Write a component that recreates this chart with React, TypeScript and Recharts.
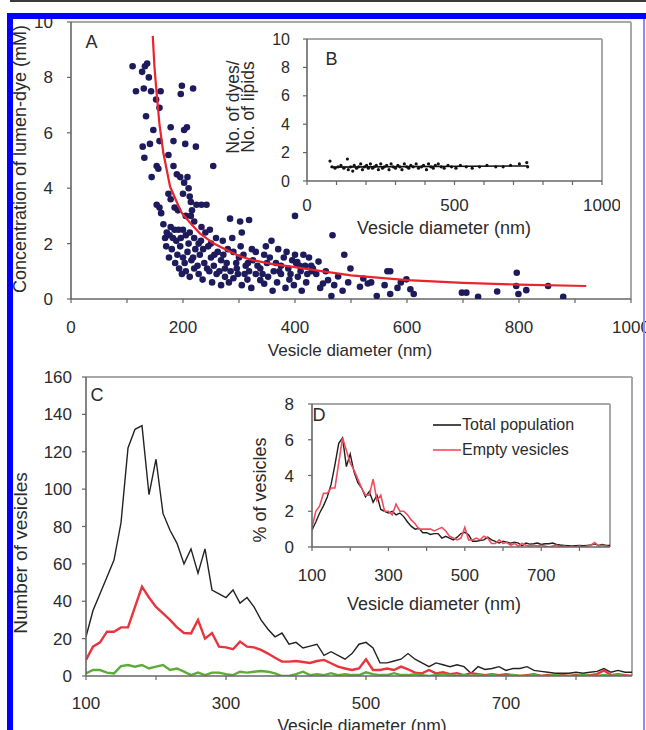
import {
  ScatterChart,
  Scatter,
  LineChart,
  Line,
  XAxis,
  YAxis,
  Label,
  ReferenceLine,
  Legend,
} from 'recharts'

const FONT = '"Liberation Sans", Arial, Helvetica, sans-serif'
const INK = '#2b2b2b'
const AXIS = '#666666'
const FRAME = '#a8a8a8'
const NAVY = '#1d1b5c'
const RED = '#e8252c'

// panel A: each vesicle as [diameter nm, lumen dye mM]
const lumenDye: [number, number][] = [
  [110, 8.4], [116, 7.5], [127, 8.2], [130, 7.6], [132, 8.4], [136, 8.5], [139, 8.0], [143, 7.5],
  [152, 7.2], [160, 7.5], [158, 6.9], [134, 6.6], [147, 6.1], [128, 5.5], [141, 5.6], [158, 5.7],
  [131, 5.1], [144, 4.4], [153, 4.8], [156, 4.7], [174, 5.2], [183, 5.7], [178, 6.2], [198, 7.7],
  [196, 7.4], [218, 7.6], [202, 6.1], [207, 6.2], [204, 5.6], [223, 5.5], [254, 4.8],
  [183, 4.8], [189, 4.5], [195, 4.4], [208, 4.4], [202, 4.2], [210, 4.0], [212, 3.7], [214, 3.5],
  [174, 3.8], [178, 3.6], [153, 3.4], [158, 3.3], [161, 3.1], [185, 3.3], [191, 3.2], [224, 3.4],
  [233, 3.4], [242, 3.4], [216, 3.2], [214, 3.0], [220, 2.8], [200, 3.8], [205, 3.0],
  [171, 2.4], [178, 2.6], [185, 2.5], [192, 2.5], [200, 2.5], [212, 2.4], [176, 2.3], [182, 2.2],
  [188, 2.1], [196, 2.2], [205, 2.3], [220, 2.2], [233, 2.6], [259, 2.2], [271, 2.1], [284, 2.9],
  [302, 2.8], [305, 2.4], [165, 2.7], [168, 2.2], [228, 2.0], [240, 2.4], [248, 2.5], [318, 2.85],
  [400, 3.0], [358, 2.1],
  [180, 1.8], [190, 1.6], [195, 1.9], [200, 1.5], [208, 1.7], [215, 1.4], [222, 1.8], [230, 1.6],
  [238, 1.3], [245, 1.9], [250, 1.5], [255, 1.2], [262, 1.7], [268, 1.4], [275, 1.1], [280, 1.8],
  [290, 1.7], [295, 1.3], [300, 1.5], [308, 1.6], [312, 1.2], [318, 1.0], [325, 1.4], [330, 1.7],
  [338, 1.1], [345, 1.6], [350, 1.3], [362, 1.0], [370, 1.8], [375, 1.2], [380, 1.5], [388, 1.1],
  [395, 1.4], [402, 1.3], [410, 1.0], [418, 1.2], [425, 1.5], [429, 1.2], [438, 0.9], [442, 1.35],
  [170, 1.9], [175, 1.5], [186, 1.3], [193, 1.1], [198, 0.9], [203, 1.3], [210, 2.0], [218, 1.5],
  [226, 1.2], [232, 2.1], [236, 1.8], [243, 1.1], [250, 2.0], [256, 1.6], [265, 1.0], [272, 1.6],
  [278, 1.3], [285, 1.0], [288, 2.2], [296, 1.1], [303, 1.9], [310, 0.9], [316, 1.3], [323, 1.8],
  [333, 1.2], [342, 0.9], [348, 1.9], [355, 1.5], [366, 1.3], [372, 1.0], [385, 1.7], [392, 0.9],
  [400, 1.6], [408, 1.2], [415, 1.6], [422, 0.9], [432, 1.1], [404, 1.33],
  [205, 1.0], [212, 0.8], [220, 1.1], [228, 0.9], [235, 0.7], [247, 1.0], [252, 0.6], [260, 0.9],
  [268, 0.5], [275, 0.8], [282, 0.6], [290, 0.75], [298, 0.9], [305, 0.5], [315, 0.7], [322, 0.4],
  [330, 0.9], [338, 0.68], [345, 0.55], [352, 0.8], [360, 0.3], [368, 0.6], [375, 0.9], [383, 0.4],
  [390, 0.7], [398, 0.5], [405, 0.8], [412, 0.3], [420, 0.6], [450, 0.56], [459, 0.68], [465, 0.11],
  [477, 0.81], [430, 1.0], [445, 0.4], [455, 1.0], [470, 0.5], [485, 0.3], [495, 0.6],
  [467, 2.3], [488, 1.6], [499, 1.1],
  [522, 0.74], [516, 0.44], [530, 0.56], [536, 0.6], [546, 0.11], [565, 1.0], [570, 1.0], [560, 0.5],
  [570, 0.18], [583, 0.4], [589, 0.6], [599, 0.71], [606, 0.35], [612, 0.18], [698, 0.23], [706, 0.23],
  [727, 0.08], [761, 0.27], [796, 0.95], [795, 0.47], [799, 0.18], [813, 0.32], [852, 0.47], [879, 0.08],
]

// panel A: fitted curve
const fitDiameter = [146, 149, 152, 158, 165, 177, 190, 198, 215, 230, 255, 278, 300, 325, 360, 397, 450, 500, 600, 700, 800, 920]
const fitConc = [9.5, 8.4, 7.65, 6.3, 5.26, 4.05, 3.45, 3.1, 2.7, 2.37, 2.0, 1.77, 1.55, 1.4, 1.26, 1.16, 1.0, 0.85, 0.68, 0.58, 0.52, 0.47]

// panel B: dyes per lipid, [diameter nm, ratio]
const dyeRatio: [number, number][] = [
  [78, 1.4], [85, 1.0], [95, 0.9], [105, 1.0], [115, 1.1], [125, 0.9], [137, 1.55], [140, 0.8],
  [148, 1.0], [155, 0.7], [160, 1.1], [168, 0.9], [175, 1.0], [182, 1.2], [188, 0.8], [195, 1.0],
  [202, 1.1], [208, 0.9], [215, 1.2], [222, 0.9], [228, 1.0], [235, 1.1], [242, 0.8], [250, 1.2],
  [256, 0.9], [262, 1.0], [270, 1.1], [278, 0.8], [285, 1.2], [292, 1.0], [300, 0.9], [308, 1.1],
  [315, 1.0], [322, 0.8], [330, 1.2], [338, 1.0], [345, 0.9], [352, 1.1], [360, 1.0], [370, 1.2],
  [378, 0.9], [388, 1.0], [395, 1.1], [405, 0.8], [412, 1.2], [420, 1.0], [428, 0.9], [435, 1.1],
  [445, 1.2], [455, 1.0], [465, 0.9], [478, 1.1], [490, 1.0], [505, 0.9], [520, 1.1], [540, 1.0],
  [560, 0.9], [585, 1.0], [610, 1.1], [640, 1.0], [665, 1.0], [690, 1.1], [720, 1.2], [745, 1.3],
  [748, 1.0],
]
const ratioFitDiameter = [80, 750]
const ratioFitValue = [0.98, 1.06]

// panels C and D: 10 nm bins
const binNm = [
  100, 110, 120, 130, 140, 150, 160, 170, 180, 190,
  200, 210, 220, 230, 240, 250, 260, 270, 280, 290,
  300, 310, 320, 330, 340, 350, 360, 370, 380, 390,
  400, 410, 420, 430, 440, 450, 460, 470, 480, 490,
  500, 510, 520, 530, 540, 550, 560, 570, 580, 590,
  600, 610, 620, 630, 640, 650, 660, 670, 680, 690,
  700, 710, 720, 730, 740, 750, 760, 770, 780, 790,
  800, 810, 820, 830, 840, 850, 860, 870, 880,
]
const totalCount = [
  21, 35, 44, 53, 62, 82, 122, 132, 134, 97,
  116, 87, 78, 71, 60, 68, 55, 68, 46, 44,
  42, 46, 39, 42, 37, 30, 25, 21, 23, 17,
  18, 15, 16, 17, 11, 13, 11, 9, 12, 17,
  18, 15, 7, 7, 8, 9, 12, 9, 7, 5,
  7, 6, 5, 6, 5, 1.5, 5, 3.5, 4, 5,
  3, 4, 4, 5, 3, 2.5, 2, 1.5, 1.5, 1.5,
  2, 1.5, 2, 2.5, 4, 2, 3, 2, 2,
]
const emptyCount = [
  8.6, 15.7, 18, 23.7, 23.7, 26, 26, 37, 47.8, 42,
  37, 33.5, 30, 26, 23, 22.8, 30, 20, 23, 15.7,
  15.3, 14.3, 18.4, 15.7, 15.3, 14, 12, 9.8, 7.7, 7.7,
  8, 7.5, 7, 8, 8.6, 6.8, 5, 4, 3.2, 4,
  8.9, 3.2, 3.2, 4, 3.2, 5, 3.6, 1.8, 1.4, 3.2,
  1.4, 2, 1, 1.5, 0.5, 1.5, 1, 0.5, 1, 0.5,
  1, 0.5, 0, 0.5, 1, 0, 0.5, 0, 0.5, 0,
  0.5, 0, 0.5, 1, 3, 0.5, 1, 0.5, 0,
]
const loadedCount = [
  1.4, 3.2, 3.2, 1.8, 1.4, 5.3, 5.9, 5, 5.9, 4,
  5, 5.9, 3.2, 4, 2.3, 0.5, 1.8, 0.5, 1.8, 1.8,
  1, 0.5, 2.3, 1.8, 2.3, 2.7, 2.3, 1.4, 0, 0,
  1, 2.3, 0.5, 1, 0.5, 1.5, 0.5, 1, 0.5, 0.5,
  2, 1, 0.5, 0.5, 1.5, 0.5, 0.5, 1, 0.5, 0,
  0.5, 1, 0.5, 0, 0.5, 0, 0.5, 0, 0.5, 0,
  0, 0.5, 0, 0, 0.5, 0, 0, 0.5, 0, 0,
  0, 0.5, 0, 0, 0.5, 0, 0.5, 0, 0,
]
const totalPct = [
  0.95, 1.4, 1.9, 2.3, 2.8, 3.5, 4.6, 5.8, 6.1, 4.5,
  5.2, 4.2, 3.6, 3.3, 2.8, 3.1, 2.5, 2.9, 2.1, 2.0,
  1.9, 2.0, 1.8, 1.9, 1.7, 1.4, 1.15, 1.0, 1.05, 0.8,
  0.8, 0.7, 0.75, 0.75, 0.5, 0.6, 0.5, 0.4, 0.55, 0.75,
  0.82, 0.68, 0.32, 0.32, 0.36, 0.4, 0.55, 0.4, 0.32, 0.22,
  0.32, 0.27, 0.22, 0.27, 0.22, 0.07, 0.22, 0.16, 0.18, 0.22,
  0.14, 0.18, 0.18, 0.22, 0.14, 0.11, 0.09, 0.07, 0.07, 0.07,
  0.09, 0.07, 0.09, 0.11, 0.18, 0.09, 0.14, 0.09, 0.09,
]
const emptyPct = [
  1.1, 2.0, 2.3, 3.0, 3.0, 3.3, 3.3, 4.7, 6.1, 5.4,
  4.7, 4.3, 3.8, 3.3, 2.9, 2.9, 3.8, 2.6, 2.9, 2.0,
  2.0, 1.8, 2.4, 2.0, 2.0, 1.8, 1.5, 1.3, 1.0, 1.0,
  1.0, 1.0, 0.9, 1.0, 1.1, 0.9, 0.6, 0.5, 0.4, 0.5,
  1.1, 0.4, 0.4, 0.5, 0.4, 0.6, 0.5, 0.2, 0.2, 0.4,
  0.2, 0.25, 0.1, 0.2, 0.05, 0.2, 0.1, 0.05, 0.1, 0.05,
  0.1, 0.05, 0, 0.05, 0.1, 0, 0.05, 0, 0.05, 0,
  0.05, 0, 0.05, 0.1, 0.25, 0.05, 0.1, 0.05, 0,
]

// legend order in panel D
const legendOrder = ['Total population', 'Empty vesicles']

// ticks
const aXTicks = [0, 100, 200, 300, 400, 500, 600, 700, 800, 900, 1000]
const aXLabels = [0, 200, 400, 600, 800, 1000]
const aYTicks = [0, 2, 4, 6, 8, 10]
const bXTicks = [0, 100, 200, 300, 400, 500, 600, 700, 800, 900, 1000]
const bXLabels = [0, 500, 1000]
const bYTicks = [0, 2, 4, 6, 8, 10]
const cXTicks = [100, 200, 300, 400, 500, 600, 700, 800]
const cXLabels = [100, 300, 500, 700]
const cYTicks = [0, 20, 40, 60, 80, 100, 120, 140, 160]
const dYTicks = [0, 2, 4, 6, 8]

const scatterA = lumenDye.map(([d, c]) => ({ d, c }))
const fitA = fitDiameter.map((d, i) => ({ d, c: fitConc[i] }))
const scatterB = dyeRatio.map(([d, r]) => ({ d, r }))
const fitB = ratioFitDiameter.map((d, i) => ({ d, r: ratioFitValue[i] }))
const countData = binNm.map((nm, i) => ({
  nm,
  total: totalCount[i],
  empty: emptyCount[i],
  loaded: loadedCount[i],
}))
const pctData = binNm.map((nm, i) => ({ nm, total: totalPct[i], empty: emptyPct[i] }))

const only = (labels: number[]) => (v: number) => (labels.includes(v) ? String(v) : '')
const tickFont = (size: number) => ({ fill: INK, fontSize: size, fontFamily: FONT })

function Title({ x, y, text, size = 17, vertical = false }: { x: number; y: number; text: string; size?: number; vertical?: boolean }) {
  return (
    <text
      x={x}
      y={y}
      textAnchor="middle"
      dominantBaseline="central"
      fontSize={size}
      fontFamily={FONT}
      fill={INK}
      transform={vertical ? `rotate(-90 ${x} ${y})` : undefined}
    >
      {text}
    </text>
  )
}

const navyDot = (p: any) => <circle cx={p.cx} cy={p.cy} r={3.3} fill={NAVY} />
const smallDot = (p: any) => <circle cx={p.cx} cy={p.cy} r={1.6} fill="#111" />
const noDot = () => <g />

function LegendD({ payload }: any) {
  const items = [...(payload || [])].sort(
    (a: any, b: any) => legendOrder.indexOf(a.value) - legendOrder.indexOf(b.value),
  )
  return (
    <div style={{ fontFamily: FONT, fontSize: 16, color: INK }}>
      {items.map((p: any) => (
        <div key={p.value} style={{ display: 'flex', alignItems: 'center', height: 25 }}>
          <svg width={28} height={10} style={{ marginRight: 1 }}>
            <line x1={0} y1={5} x2={28} y2={5} stroke={p.color} strokeWidth={1.6} />
          </svg>
          <span>{p.value}</span>
        </div>
      ))}
    </div>
  )
}

export default function App() {
  const axisLine = { stroke: AXIS, strokeWidth: 1.6 }
  const tickLine = { stroke: AXIS, strokeWidth: 1.2 }
  return (
    <div style={{ position: 'absolute', left: 0, top: 0, width: 646, height: 730, overflow: 'hidden', background: '#fff' }}>
      {/* A */}
      <div style={{ position: 'absolute', left: 0, top: 0 }}>
        <ScatterChart width={646} height={365} margin={{ top: 22, right: 15, bottom: 0, left: 5 }}>
          <XAxis type="number" dataKey="d" domain={[0, 1000]} ticks={aXTicks} interval={0} tickFormatter={only(aXLabels)}
            height={66} tickSize={4} tickMargin={18} axisLine={axisLine} tickLine={tickLine} tick={tickFont(17)} allowDataOverflow>
            <Label content={() => <Title x={350} y={350} text="Vesicle diameter (nm)" size={17} />} />
          </XAxis>
          <YAxis type="number" dataKey="c" domain={[0, 10]} ticks={aYTicks} interval={0}
            width={66} tickSize={4} tickMargin={14} axisLine={axisLine} tickLine={tickLine} tick={tickFont(17)} allowDataOverflow>
            <Label content={() => <Title x={20} y={159} text="Concentration of lumen-dye (mM)" size={18} vertical />} />
            <Label content={() => <Title x={91.5} y={42} text="A" size={18} />} />
          </YAxis>
          <ReferenceLine y={10} stroke={FRAME} strokeWidth={2} ifOverflow="visible" />
          <ReferenceLine x={1000} stroke={FRAME} strokeWidth={2} ifOverflow="visible" />
          <Scatter data={scatterA} isAnimationActive={false} shape={navyDot} />
          <Scatter data={fitA} isAnimationActive={false} line={{ stroke: RED, strokeWidth: 2.2 }} lineType="joint" shape={noDot} />
        </ScatterChart>
      </div>

      {/* C */}
      <div style={{ position: 'absolute', left: 0, top: 360 }}>
        <LineChart width={646} height={370} data={countData} margin={{ top: 17, right: 14, bottom: 0, left: 5 }}>
          <XAxis type="number" dataKey="nm" domain={[100, 880]} ticks={cXTicks} interval={0} tickFormatter={only(cXLabels)}
            height={54} tickSize={4} tickMargin={17} axisLine={axisLine} tickLine={tickLine} tick={tickFont(17)} allowDataOverflow>
            <Label content={() => <Title x={362} y={366} text="Vesicle diameter (nm)" size={17.5} />} />
          </XAxis>
          <YAxis type="number" domain={[0, 160]} ticks={cYTicks} interval={0}
            width={81} tickSize={4} tickMargin={10} axisLine={axisLine} tickLine={tickLine} tick={tickFont(17)} allowDataOverflow>
            <Label content={() => <Title x={20.5} y={193} text="Number of vesicles" size={19} vertical />} />
            <Label content={() => <Title x={97} y={35} text="C" size={18} />} />
          </YAxis>
          <ReferenceLine y={160} stroke={FRAME} strokeWidth={2} ifOverflow="visible" />
          <ReferenceLine x={880} stroke={FRAME} strokeWidth={2} ifOverflow="visible" />
          <Line type="linear" dataKey="total" stroke="#222" strokeWidth={1.4} dot={false} isAnimationActive={false} />
          <Line type="linear" dataKey="empty" stroke="#e8343c" strokeWidth={2.4} dot={false} isAnimationActive={false} />
          <Line type="linear" dataKey="loaded" stroke="#5dac3a" strokeWidth={2.4} dot={false} isAnimationActive={false} />
        </LineChart>
      </div>

      {/* B inset */}
      <div style={{ position: 'absolute', left: 220, top: 25 }}>
        <ScatterChart width={400} height={220} margin={{ top: 14, right: 18, bottom: 0, left: 0 }}>
          <XAxis type="number" dataKey="d" domain={[0, 1000]} ticks={bXTicks} interval={0} tickFormatter={only(bXLabels)}
            height={64} tickSize={4} tickMargin={14} axisLine={axisLine} tickLine={tickLine} tick={tickFont(17)} allowDataOverflow>
            <Label content={() => <Title x={224} y={203} text="Vesicle diameter (nm)" size={18} />} />
          </XAxis>
          <YAxis type="number" dataKey="r" domain={[0, 10]} ticks={bYTicks} interval={0}
            width={87} tickSize={4} tickMargin={13} axisLine={axisLine} tickLine={tickLine} tick={tickFont(16)} allowDataOverflow>
            <Label content={() => <Title x={13} y={82} text="No. of dyes/" size={17.5} vertical />} />
            <Label content={() => <Title x={28} y={82} text="No. of lipids" size={17.5} vertical />} />
            <Label content={() => <Title x={111.5} y={33.5} text="B" size={18} />} />
          </YAxis>
          <ReferenceLine y={10} stroke={FRAME} strokeWidth={2} ifOverflow="visible" />
          <ReferenceLine x={1000} stroke={FRAME} strokeWidth={2} ifOverflow="visible" />
          <Scatter data={scatterB} isAnimationActive={false} shape={smallDot} />
          <Scatter data={fitB} isAnimationActive={false} line={{ stroke: '#111', strokeWidth: 1.6 }} lineType="joint" shape={noDot} />
        </ScatterChart>
      </div>

      {/* D inset */}
      <div style={{ position: 'absolute', left: 240, top: 385 }}>
        <LineChart width={400} height={235} data={pctData} margin={{ top: 19, right: 30, bottom: 0, left: 0 }}>
          <XAxis type="number" dataKey="nm" domain={[100, 880]} ticks={cXTicks} interval={0} tickFormatter={only(cXLabels)}
            height={73} tickSize={4} tickMargin={18} axisLine={axisLine} tickLine={tickLine} tick={tickFont(17)} allowDataOverflow>
            <Label content={() => <Title x={194} y={219} text="Vesicle diameter (nm)" size={18} />} />
          </XAxis>
          <YAxis type="number" domain={[0, 8]} ticks={dYTicks} interval={0}
            width={72} tickSize={4} tickMargin={14} axisLine={axisLine} tickLine={tickLine} tick={tickFont(17)} allowDataOverflow>
            <Label content={() => <Title x={20} y={105} text="% of vesicles" size={18} vertical />} />
            <Label content={() => <Title x={79} y={30} text="D" size={18} />} />
          </YAxis>
          <ReferenceLine y={8} stroke={FRAME} strokeWidth={2} ifOverflow="visible" />
          <ReferenceLine x={880} stroke={FRAME} strokeWidth={2} ifOverflow="visible" />
          <Legend layout="vertical" align="center" verticalAlign="middle" wrapperStyle={{ left: 193, top: 27, width: 'auto' }} content={<LegendD />} />
          <Line type="linear" dataKey="total" name="Total population" stroke="#1e1e1e" strokeWidth={1.4} dot={false} isAnimationActive={false} />
          <Line type="linear" dataKey="empty" name="Empty vesicles" stroke="#ef4d5e" strokeWidth={1.6} dot={false} isAnimationActive={false} />
        </LineChart>
      </div>

      {/* page frame */}
      <div style={{ position: 'absolute', left: 10, top: 0, width: 636, height: 2, background: '#3a3a3a' }} />
      <div style={{ position: 'absolute', left: 7, top: 13, width: 639, height: 6, background: '#0000ff' }} />
      <div style={{ position: 'absolute', left: 7, top: 13, width: 6, height: 717, background: '#0000ff' }} />
      <div style={{ position: 'absolute', left: 643, top: 19, width: 2, height: 711, background: '#8c8cff' }} />
    </div>
  )
}
